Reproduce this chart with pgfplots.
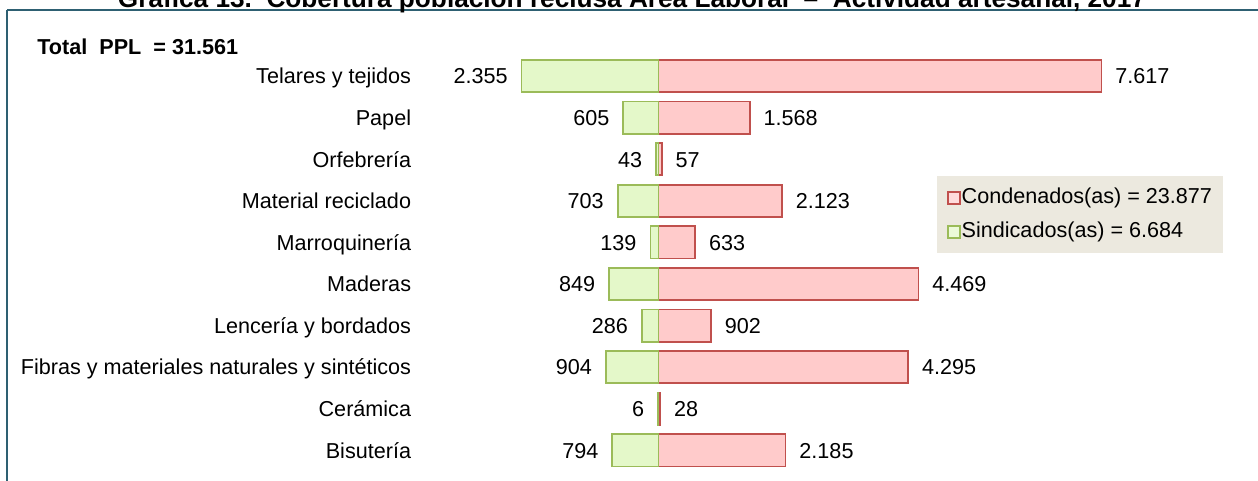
\documentclass[border=0pt]{standalone}
\usepackage{pgfplots}
\pgfplotsset{compat=1.18}
\usepackage{fontspec}
\setmainfont{Liberation Sans}
\definecolor{gbord}{HTML}{9BBB59}
\definecolor{gfill}{HTML}{E4F8C9}
\definecolor{rbord}{HTML}{C0504D}
\definecolor{rfill}{HTML}{FFCBCB}
\definecolor{legbg}{HTML}{ECE9DF}
\definecolor{frame}{HTML}{2E6072}
\newcommand{\fs}{\fontsize{10.8}{13}\selectfont}
\begin{document}
\begin{tikzpicture}[x=0.5pt,y=-0.5pt]
\useasboundingbox (0,0) rectangle (1258,481);
\clip (0,0) rectangle (1258,481);
\begin{axis}[
  at={(0,0)}, anchor=north west,
  scale only axis, width=629pt, height=240.5pt,
  xmin=-11322, xmax=10308,
  ymin=-1.827, ymax=9.736, y dir=reverse,
  axis line style={draw=none},
  tick style={draw=none},
  xtick=\empty,
  ytick={0,...,9},
  yticklabels={Telares y tejidos,Papel,Orfebrería,Material reciclado,Marroquinería,Maderas,Lencería y bordados,Fibras y materiales naturales y sintéticos,Cerámica,Bisutería},
  yticklabel style={font=\fs, anchor=base east, inner sep=0pt, xshift=210pt, yshift=-3.9pt},
  xbar, bar shift=0pt, bar width=0.77,
  point meta=explicit symbolic,
  nodes near coords={\pgfplotspointmeta},
  legend style={at={(axis cs:4790,2.404)}, anchor=north west, fill=legbg, draw=none,
    font=\fs, inner xsep=5pt, inner ysep=5pt, row sep=5.5pt,
    nodes={inner sep=0.5pt, text height=8pt, text depth=2.5pt}},
  legend cell align=left,
]
\addplot[draw=rbord, line width=0.9pt, fill=rfill,
  every node near coord/.append style={font=\fs, anchor=base west, inner xsep=6.5pt, inner ysep=0pt, yshift=-3.9pt, text=black},
  legend image code/.code={\draw[draw=rbord, fill=rfill!70!white, line width=0.6pt] (0pt,-3pt) rectangle (6pt,3pt);}]
 coordinates {(7617,0)[7.617] (1568,1)[1.568] (57,2)[57] (2123,3)[2.123] (633,4)[633] (4469,5)[4.469] (902,6)[902] (4295,7)[4.295] (28,8)[28] (2185,9)[2.185]};
\addlegendentry{Condenados(as) = 23.877}
\addplot[draw=gbord, line width=0.9pt, fill=gfill,
  every node near coord/.append style={font=\fs, anchor=base east, inner xsep=6.5pt, inner ysep=0pt, yshift=-3.9pt, text=black},
  legend image code/.code={\draw[draw=gbord, fill=gfill!70!white, line width=0.6pt] (0pt,-3pt) rectangle (6pt,3pt);}]
 coordinates {(-2355,0)[2.355] (-605,1)[605] (-43,2)[43] (-703,3)[703] (-139,4)[139] (-849,5)[849] (-286,6)[286] (-904,7)[904] (-6,8)[6] (-794,9)[794]};
\addlegendentry{Sindicados(as) = 6.684}
\end{axis}
\draw[frame, line width=0.75pt] (7,10) -- (1260,10);
\draw[frame, line width=1pt] (7,10) -- (7,490);
\node[anchor=base west, font=\fs\bfseries, inner sep=0pt] at (37,55) {Total\ \ PPL\ \ = 31.561};
\node[anchor=base, font=\fontsize{13.1}{15}\selectfont\bfseries, inner sep=0pt] at (632,8) {Gráfica 13.\ \ Cobertura población reclusa Área Laboral \ – \ Actividad artesanal, 2017};
\end{tikzpicture}
\end{document}
